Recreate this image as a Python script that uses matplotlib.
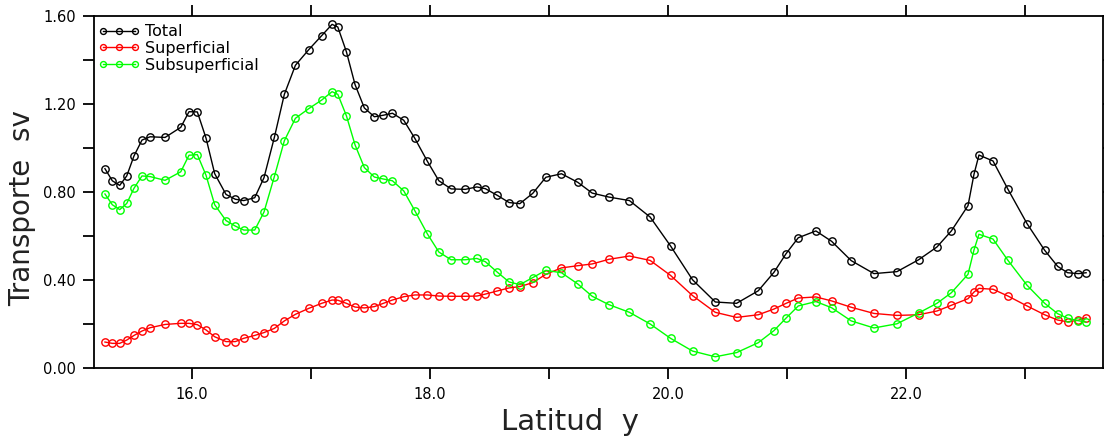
import numpy as np
import matplotlib
matplotlib.use("Agg")
import matplotlib.pyplot as plt
from matplotlib.ticker import FixedLocator, FixedFormatter

# latitude of each station (shared by the three series)
lat = [15.268, 15.33, 15.392, 15.451, 15.512, 15.579, 15.647, 15.773, 15.905, 15.974,
       16.044, 16.117, 16.19, 16.285, 16.363, 16.434, 16.526, 16.604,
       16.691, 16.775, 16.868, 16.98, 17.089, 17.176, 17.224, 17.296, 17.369, 17.447,
       17.531, 17.607, 17.683, 17.778, 17.871, 17.977, 18.073,
       18.176, 18.294, 18.392, 18.464, 18.563, 18.663, 18.753, 18.862, 18.972, 19.103,
       19.24, 19.361, 19.501,
       19.674, 19.848, 20.019, 20.204, 20.395, 20.574, 20.756, 20.888,
       20.99, 21.092, 21.24, 21.372, 21.537, 21.728, 21.921, 22.103, 22.257, 22.378,
       22.518, 22.568, 22.61, 22.728, 22.854, 23.014, 23.162, 23.271, 23.355, 23.445, 23.51]

total = [0.906, 0.851, 0.830, 0.873, 0.964, 1.036, 1.051, 1.048, 1.094, 1.165,
         1.164, 1.045, 0.883, 0.789, 0.767, 0.761, 0.774, 0.865,
         1.048, 1.244, 1.376, 1.447, 1.511, 1.562, 1.55, 1.438, 1.288, 1.182,
         1.142, 1.149, 1.158, 1.126, 1.044, 0.939, 0.851,
         0.814, 0.812, 0.823, 0.815, 0.785, 0.752, 0.747, 0.794, 0.867, 0.883,
         0.844, 0.795, 0.777,
         0.761, 0.686, 0.555, 0.401, 0.300, 0.294, 0.351, 0.435,
         0.520, 0.592, 0.623, 0.576, 0.488, 0.429, 0.438, 0.492, 0.550, 0.623,
         0.738, 0.880, 0.968, 0.941, 0.812, 0.656, 0.535, 0.462, 0.433, 0.429, 0.433]

superficial = [0.118, 0.112, 0.112, 0.127, 0.148, 0.168, 0.183, 0.198, 0.203, 0.203,
               0.197, 0.173, 0.142, 0.120, 0.120, 0.135, 0.148, 0.161,
               0.180, 0.214, 0.244, 0.271, 0.294, 0.309, 0.308, 0.294, 0.277, 0.273,
               0.279, 0.294, 0.309, 0.324, 0.332, 0.332, 0.327,
               0.326, 0.326, 0.327, 0.336, 0.350, 0.364, 0.370, 0.388, 0.426, 0.455,
               0.465, 0.473, 0.494,
               0.509, 0.489, 0.421, 0.329, 0.253, 0.230, 0.242, 0.268,
               0.294, 0.318, 0.323, 0.305, 0.276, 0.248, 0.239, 0.242, 0.259, 0.285,
               0.315, 0.345, 0.362, 0.358, 0.327, 0.282, 0.242, 0.218, 0.210, 0.217, 0.229]

subsuperficial = [0.791, 0.742, 0.720, 0.748, 0.817, 0.873, 0.870, 0.853, 0.892, 0.967,
                  0.970, 0.876, 0.742, 0.670, 0.645, 0.627, 0.627, 0.709,
                  0.870, 1.033, 1.135, 1.179, 1.218, 1.256, 1.244, 1.147, 1.014, 0.911,
                  0.868, 0.859, 0.851, 0.805, 0.715, 0.609, 0.527,
                  0.492, 0.492, 0.498, 0.483, 0.436, 0.391, 0.379, 0.411, 0.444, 0.433,
                  0.382, 0.326, 0.288,
                  0.253, 0.200, 0.135, 0.077, 0.051, 0.070, 0.115, 0.170,
                  0.227, 0.282, 0.302, 0.274, 0.214, 0.182, 0.201, 0.250, 0.294, 0.342,
                  0.426, 0.536, 0.608, 0.586, 0.489, 0.376, 0.294, 0.247, 0.226, 0.215, 0.208]

series_names = ["Total", "Superficial", "Subsuperficial"]
series_colors = ["black", "red", "lime"]

xticks = [15, 16, 17, 18, 19, 20, 21, 22, 23]
xtick_labels = ["", "16.0", "", "18.0", "", "20.0", "", "22.0", ""]
yticks = [0.0, 0.2, 0.4, 0.6, 0.8, 1.0, 1.2, 1.4, 1.6]
ytick_labels = ["0.00", "", "0.40", "", "0.80", "", "1.20", "", "1.60"]


def main():
    fig = plt.figure(figsize=(11.04, 4.43), dpi=100)
    ax = fig.add_axes([94 / 1104, 75 / 443, 1009 / 1104, 352 / 443])

    for vals, name, col in zip([total, superficial, subsuperficial], series_names, series_colors):
        ax.plot(lat, vals, color=col, lw=1.0, marker="o", ms=5.3,
                mfc="none", mec=col, mew=1.0, label=name)

    ax.set_xlim(15.176, 23.652)
    ax.set_ylim(0, 1.6)

    ax.xaxis.set_major_locator(FixedLocator(xticks))
    ax.xaxis.set_major_formatter(FixedFormatter(xtick_labels))
    ax.yaxis.set_major_locator(FixedLocator(yticks))
    ax.yaxis.set_major_formatter(FixedFormatter(ytick_labels))
    ax.tick_params(direction="out", length=8, width=1.3, labelsize=10.5,
                   top=True, right=True, pad=5, colors="black")
    ax.tick_params(axis="x", pad=6)
    for s in ax.spines.values():
        s.set_linewidth(1.3)

    ax.set_xlabel("Latitud  y", fontsize=21, color="#222222")
    ax.xaxis.set_label_coords(0.472, -0.115)
    ax.set_ylabel("Transporte  sv", fontsize=20, color="#222222")
    ax.yaxis.set_label_coords(-0.057, 0.455)

    ax.legend(loc="upper left", bbox_to_anchor=(-0.002, 0.995), frameon=False,
              fontsize=11.5, numpoints=3, handlelength=2.6, handletextpad=0.35,
              labelspacing=0.12, borderaxespad=0.1, borderpad=0.3, markerscale=0.8)

    fig.savefig("out.png", dpi=100)


if __name__ == "__main__":
    main()
